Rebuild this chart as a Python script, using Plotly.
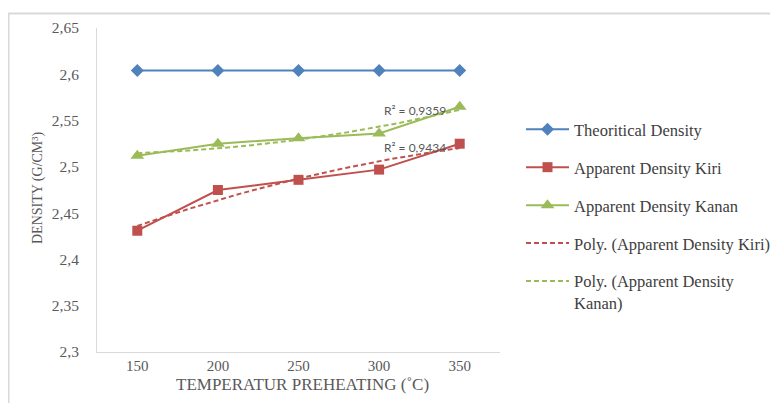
import numpy as np
import plotly.graph_objects as go

# ---- data ----
temperatures = [150, 200, 250, 300, 350]
theoretical_density = [2.604, 2.604, 2.604, 2.604, 2.604]
apparent_kiri = [2.431, 2.475, 2.486, 2.497, 2.525]
apparent_kanan = [2.512, 2.525, 2.531, 2.536, 2.565]
r2_kiri_label = "R² = 0,9434"
r2_kanan_label = "R² = 0,9359"
y_tick_vals = [2.3, 2.35, 2.4, 2.45, 2.5, 2.55, 2.6, 2.65]
y_tick_text = ["2,3", "2,35", "2,4", "2,45", "2,5", "2,55", "2,6", "2,65"]
x_tick_text = ["150", "200", "250", "300", "350"]

BLUE = "#4F81BD"
RED = "#C0504D"
GREEN = "#9BBB59"
SERIF = "Liberation Serif, Times New Roman, serif"
GRAY = "#595959"

# polynomial (order 2) trendlines fitted to the data
xx = np.linspace(min(temperatures), max(temperatures), 101)
fit_kiri = np.polyval(np.polyfit(temperatures, apparent_kiri, 2), xx)
fit_kanan = np.polyval(np.polyfit(temperatures, apparent_kanan, 2), xx)

fig = go.Figure()
fig.add_trace(go.Scatter(
    x=temperatures, y=theoretical_density, mode="lines+markers",
    name="Theoritical Density", legendgroup="a",
    line=dict(color=BLUE, width=2),
    marker=dict(symbol="diamond", size=10, color=BLUE)))
fig.add_trace(go.Scatter(
    x=temperatures, y=apparent_kiri, mode="lines+markers",
    name="Apparent Density Kiri", legendgroup="b",
    line=dict(color=RED, width=2),
    marker=dict(symbol="square", size=10, color=RED)))
fig.add_trace(go.Scatter(
    x=temperatures, y=apparent_kanan, mode="lines+markers",
    name="Apparent Density Kanan", legendgroup="c",
    line=dict(color=GREEN, width=2),
    marker=dict(symbol="triangle-up", size=12, color=GREEN)))
fig.add_trace(go.Scatter(
    x=xx, y=fit_kiri, mode="lines",
    name="Poly. (Apparent Density Kiri)", legendgroup="d",
    line=dict(color=RED, width=2, dash="5px,3px")))
fig.add_trace(go.Scatter(
    x=xx, y=fit_kanan, mode="lines",
    name="Poly. (Apparent Density<br>Kanan)", legendgroup="e",
    line=dict(color=GREEN, width=2, dash="5px,3px")))

# plot area on screen: x 97..500, y 28..352 (page body has an 8px margin)
def px(x):
    return (x - 97) / 403.0

def py(y):
    return (352 - y) / 324.0

fig.add_annotation(x=px(382), y=py(110), xref="paper", yref="paper",
                   xanchor="left", yanchor="middle", showarrow=False,
                   text=r2_kanan_label,
                   font=dict(family="Lato, Liberation Sans, sans-serif", size=12, color=GRAY))
fig.add_annotation(x=px(382), y=py(147.5), xref="paper", yref="paper",
                   xanchor="left", yanchor="middle", showarrow=False,
                   text=r2_kiri_label,
                   font=dict(family="Lato, Liberation Sans, sans-serif", size=12, color=GRAY))

# axis titles
fig.add_annotation(x=px(302), y=py(384), xref="paper", yref="paper",
                   xanchor="center", yanchor="middle", showarrow=False,
                   text="TEMPERATUR PREHEATING (˚C)",
                   font=dict(family=SERIF, size=17, color=GRAY))
fig.add_annotation(x=px(38), y=py(188), xref="paper", yref="paper",
                   xanchor="center", yanchor="middle", showarrow=False,
                   text="DENSITY (G/CM³)", textangle=-90,
                   font=dict(family=SERIF, size=14, color=GRAY))

# outer chart border (top and left edges visible)
fig.add_shape(type="line", xref="paper", yref="paper",
              x0=px(8), x1=px(790), y0=py(13.5), y1=py(13.5),
              line=dict(color="#D9D9D9", width=2))
fig.add_shape(type="line", xref="paper", yref="paper",
              x0=px(8.5), x1=px(8.5), y0=py(13.5), y1=py(420),
              line=dict(color="#D9D9D9", width=2))

fig.update_layout(
    width=778, height=403,
    margin=dict(l=89, r=286, t=20, b=59, autoexpand=False),
    paper_bgcolor="white", plot_bgcolor="white",
    font=dict(family=SERIF, color=GRAY),
    showlegend=True,
    legend=dict(
        x=px(521), xanchor="left", y=py(112), yanchor="top",
        font=dict(family=SERIF, size=16.5, color="#404040"),
        tracegroupgap=13.5, valign="top", itemwidth=43,
        bgcolor="rgba(0,0,0,0)"),
    xaxis=dict(
        range=[125, 375], tickvals=temperatures, ticktext=x_tick_text,
        showgrid=False, zeroline=False, automargin=False,
        showline=True, linecolor="#D9D9D9", linewidth=1,
        ticks="", ticklabelstandoff=0,
        tickfont=dict(family=SERIF, size=15, color=GRAY)),
    yaxis=dict(
        range=[2.3, 2.65], tickvals=y_tick_vals, ticktext=y_tick_text,
        showgrid=False, zeroline=False, automargin=False,
        showline=True, linecolor="#D9D9D9", linewidth=1,
        ticks="", ticklabelstandoff=14,
        tickfont=dict(family=SERIF, size=15.5, color=GRAY)),
)

fig.write_html("out.html")
